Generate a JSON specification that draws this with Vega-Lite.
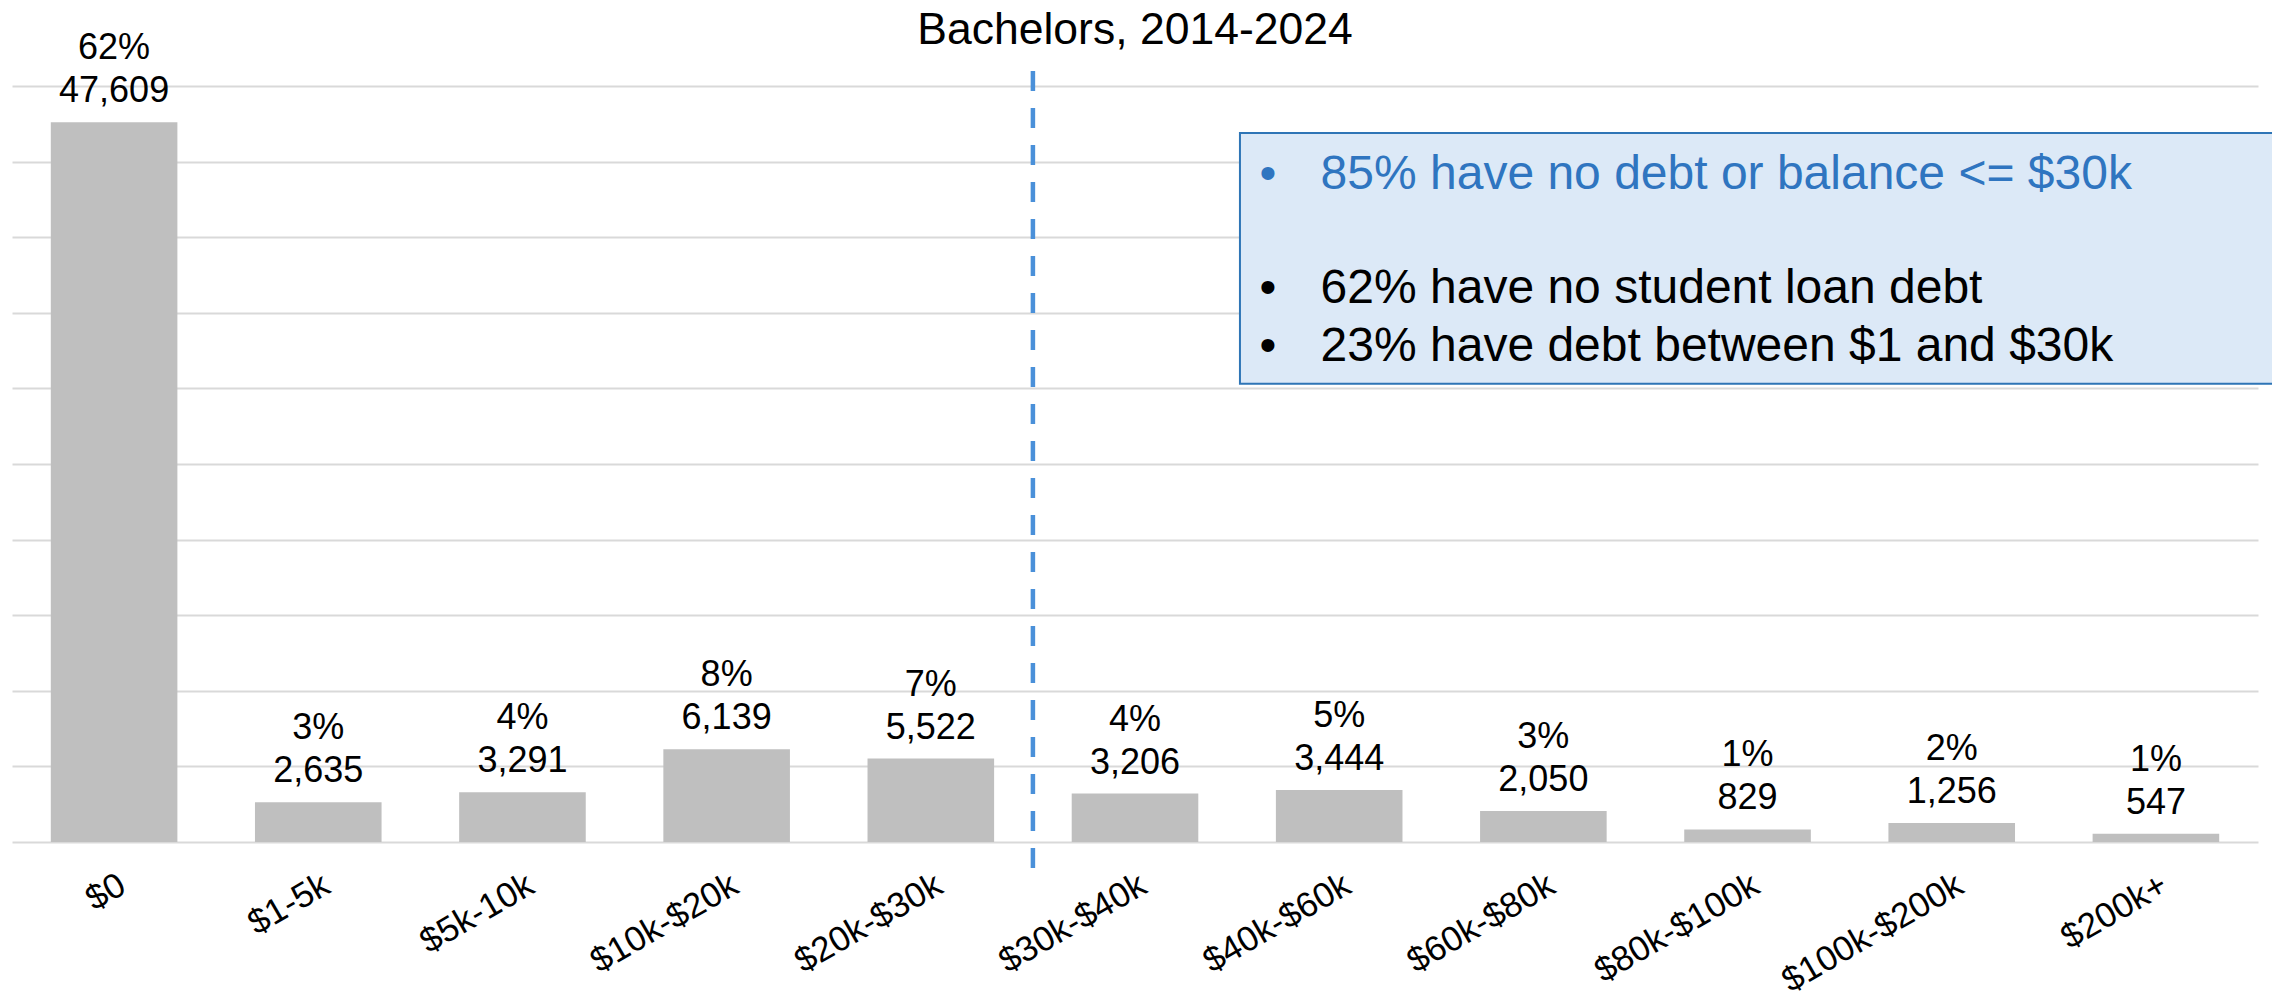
{
  "$schema": "https://vega.github.io/schema/vega-lite/v6.json",
  "autosize": "none",
  "width": 2246,
  "height": 756,
  "padding": {"left": 12, "right": 14, "top": 86, "bottom": 162},
  "background": "white",
  "config": {
    "view": {"stroke": null},
    "font": "Liberation Sans",
    "text": {"font": "Liberation Sans"},
    "axisY": {
      "title": null,
      "labels": false,
      "ticks": false,
      "domain": false,
      "tickCount": 10,
      "gridColor": "#D9D9D9",
      "gridWidth": 2
    }
  },
  "title": {
    "text": "Bachelors, 2014-2024",
    "fontSize": 44.5,
    "fontWeight": "normal",
    "font": "Liberation Sans",
    "color": "black",
    "anchor": "middle",
    "offset": -23
  },
  "datasets": {
    "bars": [
      {"bucket": "$0", "count": 47609, "share": 0.62},
      {"bucket": "$1-5k", "count": 2635, "share": 0.03},
      {"bucket": "$5k-10k", "count": 3291, "share": 0.04},
      {"bucket": "$10k-$20k", "count": 6139, "share": 0.08},
      {"bucket": "$20k-$30k", "count": 5522, "share": 0.07},
      {"bucket": "$30k-$40k", "count": 3206, "share": 0.04},
      {"bucket": "$40k-$60k", "count": 3444, "share": 0.05},
      {"bucket": "$60k-$80k", "count": 2050, "share": 0.03},
      {"bucket": "$80k-$100k", "count": 829, "share": 0.01},
      {"bucket": "$100k-$200k", "count": 1256, "share": 0.02},
      {"bucket": "$200k+", "count": 547, "share": 0.01}
    ],
    "one": [{"k": 1}]
  },
  "resolve": {"scale": {"x": "independent"}},
  "layer": [
    {
      "data": {"name": "bars"},
      "layer": [
        {
          "mark": {"type": "bar", "color": "#BFBFBF"},
          "encoding": {
            "x": {
              "field": "bucket",
              "type": "nominal",
              "sort": null,
              "scale": {"paddingInner": 0.38, "paddingOuter": 0.19},
              "axis": {
                "title": null,
                "domain": false,
                "ticks": false,
                "labelAngle": -30,
                "labelAlign": "right",
                "labelBaseline": "top",
                "labelPadding": 25,
                "labelFontSize": 35,
                "labelFont": "Liberation Sans",
                "labelColor": "black",
                "labelOverlap": false,
                "labelLimit": 0
              }
            },
            "y": {
              "field": "count",
              "type": "quantitative",
              "scale": {"domain": [0, 50000], "nice": false}
            }
          }
        },
        {
          "mark": {"type": "text", "fontSize": 36, "baseline": "alphabetic", "dy": -20, "color": "black"},
          "encoding": {
            "x": {"field": "bucket", "type": "nominal", "sort": null},
            "y": {"field": "count", "type": "quantitative"},
            "text": {"field": "count", "type": "quantitative", "format": ","}
          }
        },
        {
          "mark": {"type": "text", "fontSize": 36, "baseline": "alphabetic", "dy": -63, "color": "black"},
          "encoding": {
            "x": {"field": "bucket", "type": "nominal", "sort": null},
            "y": {"field": "count", "type": "quantitative"},
            "text": {"field": "share", "type": "quantitative", "format": ".0%"}
          }
        }
      ]
    },
    {
      "data": {"name": "one"},
      "mark": {"type": "rule", "color": "#4A90D9", "strokeWidth": 4.5, "strokeDash": [20, 17]},
      "encoding": {
        "x": {"datum": 5.0, "type": "quantitative", "scale": {"domain": [0, 11], "nice": false, "zero": false}, "axis": null},
        "y": {"datum": 51000, "type": "quantitative"},
        "y2": {"datum": -1950}
      }
    },
    {
      "data": {"name": "one"},
      "mark": {"type": "rect", "fill": "#DCE9F7", "stroke": "#2E75B6", "strokeWidth": 2},
      "encoding": {
        "x": {"datum": 6.014, "type": "quantitative", "scale": {"domain": [0, 11], "nice": false, "zero": false}, "axis": null},
        "x2": {"datum": 11.2},
        "y": {"datum": 46893, "type": "quantitative"},
        "y2": {"datum": 30300}
      }
    },
    {
      "data": {"name": "one"},
      "layer": [
        {
          "mark": {"type": "text", "text": "•", "fontSize": 48, "align": "left", "baseline": "alphabetic", "color": "#2F75C0"},
          "encoding": {
            "x": {"datum": 6.11, "type": "quantitative", "scale": {"domain": [0, 11], "nice": false, "zero": false}, "axis": null},
            "y": {"datum": 43190, "type": "quantitative"}
          }
        },
        {
          "mark": {"type": "text", "text": "85% have no debt or balance <= $30k", "fontSize": 48, "align": "left", "baseline": "alphabetic", "color": "#2F75C0"},
          "encoding": {
            "x": {"datum": 6.409, "type": "quantitative", "scale": {"domain": [0, 11], "nice": false, "zero": false}, "axis": null},
            "y": {"datum": 43190, "type": "quantitative"}
          }
        },
        {
          "mark": {"type": "text", "text": ["•", "•"], "lineHeight": 58.5, "fontSize": 48, "align": "left", "baseline": "alphabetic", "color": "black"},
          "encoding": {
            "x": {"datum": 6.11, "type": "quantitative", "scale": {"domain": [0, 11], "nice": false, "zero": false}, "axis": null},
            "y": {"datum": 35654, "type": "quantitative"}
          }
        },
        {
          "mark": {"type": "text", "text": ["62% have no student loan debt", "23% have debt between $1 and $30k"], "lineHeight": 58.5, "fontSize": 48, "align": "left", "baseline": "alphabetic", "color": "black"},
          "encoding": {
            "x": {"datum": 6.409, "type": "quantitative", "scale": {"domain": [0, 11], "nice": false, "zero": false}, "axis": null},
            "y": {"datum": 35654, "type": "quantitative"}
          }
        }
      ]
    }
  ]
}
